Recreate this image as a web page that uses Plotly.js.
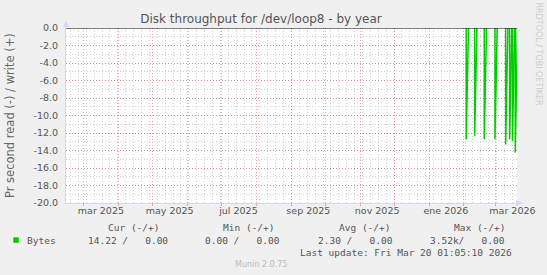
<!DOCTYPE html>
<html><head><meta charset="utf-8">
<script src="https://cdn.plot.ly/plotly-3.0.1.min.js"></script>
<style>html,body{margin:0;padding:0;background:#f0f0f0;} #chart{width:547px;height:275px;}</style>
</head><body><div id="chart"></div>
<script>
// ---- data ----
const rangeStart = '2025-02-13 01:05:10';
const rangeEnd = '2026-03-20 01:05:10';
const spikeDates = ['2026-02-03 00:00','2026-02-10 12:00','2026-02-19 00:00','2026-02-28 12:00','2026-03-10 00:00','2026-03-13 12:00','2026-03-16 00:00','2026-03-18 12:00'];
const spikeRead = [12.7, 12.3, 12.7, 12.7, 13.3, 12.7, 12.9, 14.22];
const monthStarts = ['2025-03-01','2025-04-01','2025-05-01','2025-06-01','2025-07-01','2025-08-01','2025-09-01','2025-10-01','2025-11-01','2025-12-01','2026-01-01','2026-02-01','2026-03-01'];
const labelDates = ['2025-03-16','2025-05-16','2025-07-16','2025-09-16','2025-11-16','2026-01-16','2026-03-16'];
const labelTexts = ['mar 2025','may 2025','jul 2025','sep 2025','nov 2025','ene 2026','mar 2026'];
const yTickVals = [0,-2,-4,-6,-8,-10,-12,-14,-16,-18,-20];
const yTickText = ['0.0','-2.0','-4.0','-6.0','-8.0','-10.0','-12.0','-14.0','-16.0','-18.0','-20.0'];
const legendHeaders = ['Cur (-/+)','Min (-/+)','Avg (-/+)','Max (-/+)'];
const statRead = ['14.22','0.00','2.30','3.52k'];
const statWrite = ['0.00','0.00','0.00','0.00'];
const seriesName = 'Bytes';
const lastUpdate = 'Last update: Fri Mar 20 01:05:10 2026';
const version = 'Munin 2.0.75';

// ---- helpers ----
const L=66, R=517, T=28, B=203;
const px = x => (x - L) / (R - L);
const py = y => (B - y) / (B - T);
function addDays(s, n){
  const d = new Date(s.replace(' ','T') + ':00Z');
  d.setTime(d.getTime() + n*864e5);
  return d.toISOString().slice(0,19).replace('T',' ');
}
const xs = [], ys = [];
spikeDates.forEach((d,i)=>{
  xs.push(d, d, addDays(d, 2), null);
  ys.push(0, -spikeRead[i], 0, null);
});

const FONT = 'DejaVu Sans';
const MONO = 'DejaVu Sans Mono';
const TXT = '#555555';
const AXIS = '#CFD6F8';
const MAJ = 'rgba(225,90,90,0.55)';
const MIN = 'rgba(150,150,150,0.45)';
const NB = '\u00a0';

const traces = [
  {x: xs, y: ys, type:'scatter', mode:'lines', line:{color:'#00cc00', width:1.5}, hoverinfo:'skip', connectgaps:false, showlegend:false},
  {x: [rangeStart, rangeEnd], y:[null,null], xaxis:'x2', type:'scatter', mode:'lines', hoverinfo:'skip', showlegend:false}
];

const ann = [];
function txt(text, x, y, opt){
  ann.push(Object.assign({text, x:px(x), y:py(y), xref:'paper', yref:'paper', showarrow:false,
    xanchor:'left', yanchor:'middle', font:{family:MONO, size:9.5, color:TXT}}, opt||{}));
}
const headX = [106, 221, 337, 452];
const valX = [85.7, 203, 316, 428];
legendHeaders.forEach((h,i)=> txt(h, headX[i], 227));
txt(seriesName, 25, 240);
statRead.forEach((v,i)=>{
  const sep = /[a-zA-Z]$/.test(v) ? '' : NB;
  txt(v + sep + '/' + NB+NB+NB + statWrite[i], valX[i], 240);
});
txt(lastUpdate, 297.7, 252);
txt(version, 260.5, 264, {xanchor:'center', font:{family:FONT, size:8, color:'#bbbbbb'}});
txt('Pr second read (-) / write (+)', 10, 116, {xanchor:'center', textangle:-90, font:{family:FONT, size:11.5, color:'#666666'}});
txt('RRDTOOL / TOBI OETIKER', 538, 53.5, {xanchor:'center', textangle:90, font:{family:FONT, size:8, color:'#cccccc'}});

const shapes = [
  {type:'line', xref:'paper', x0:0, x1:1, yref:'y', y0:0, y1:0, line:{color:'#000000', width:1}, layer:'above'},
  {type:'rect', xref:'paper', yref:'paper', x0:px(13.3), x1:px(18.8), y0:py(237.3), y1:py(242.8), fillcolor:'#00cc00', line:{width:0}},
  // axis arrows
  {type:'path', xref:'paper', yref:'paper', xsizemode:'pixel', ysizemode:'pixel', xanchor:0, yanchor:1,
   path:'M -3 1 L 3 1 L 0 7 Z', fillcolor:AXIS, line:{width:0}},
  {type:'path', xref:'paper', yref:'paper', xsizemode:'pixel', ysizemode:'pixel', xanchor:1, yanchor:0,
   path:'M -1 -3 L -1 3 L 6 0 Z', fillcolor:AXIS, line:{width:0}},
  {type:'line', xref:'paper', yref:'paper', x0:1, x1:px(520), y0:0, y1:0, line:{color:AXIS, width:1}}
];

const layout = {
  width:547, height:275,
  paper_bgcolor:'#f0f0f0', plot_bgcolor:'#ffffff',
  margin:{l:L, r:547-R, t:T, b:275-B, pad:0},
  showlegend:false,
  title:{text:'Disk throughput for /dev/loop8 - by year', x:261/547, xref:'container', xanchor:'center',
         y:1-19/275, yref:'container', yanchor:'middle', font:{family:FONT, size:12, color:TXT}},
  xaxis:{type:'date', range:[rangeStart, rangeEnd], tickmode:'array', tickvals:monthStarts, showticklabels:false,
         showgrid:true, gridcolor:MAJ, griddash:'1px,2px', gridwidth:1,
         ticks:'outside', ticklen:2, tickcolor:MAJ,
         showline:true, linecolor:AXIS, linewidth:1, zeroline:false,
         minor:{dtick:7*864e5, tick0:'2025-02-17', showgrid:true, gridcolor:MIN, griddash:'1px,2px', gridwidth:1}},
  xaxis2:{type:'date', overlaying:'x', anchor:'y', side:'bottom', range:[rangeStart, rangeEnd], tickmode:'array',
          tickvals:labelDates, ticktext:labelTexts, showgrid:false, zeroline:false, showline:false, ticks:'',
          tickfont:{family:FONT, size:9.5, color:TXT}},
  yaxis:{range:[-20,0], tickmode:'array', tickvals:yTickVals, ticktext:yTickText,
         showgrid:true, gridcolor:MAJ, griddash:'1px,2px', gridwidth:1,
         ticks:'', ticklabelstandoff:5, tickfont:{family:FONT, size:9.5, color:TXT},
         showline:true, linecolor:AXIS, linewidth:1, zeroline:false,
         minor:{dtick:1, tick0:0, showgrid:true, gridcolor:MIN, griddash:'1px,2px', gridwidth:1}},
  annotations: ann,
  shapes: shapes
};
Plotly.newPlot('chart', traces, layout, {staticPlot:true, displayModeBar:false});
</script></body></html>
